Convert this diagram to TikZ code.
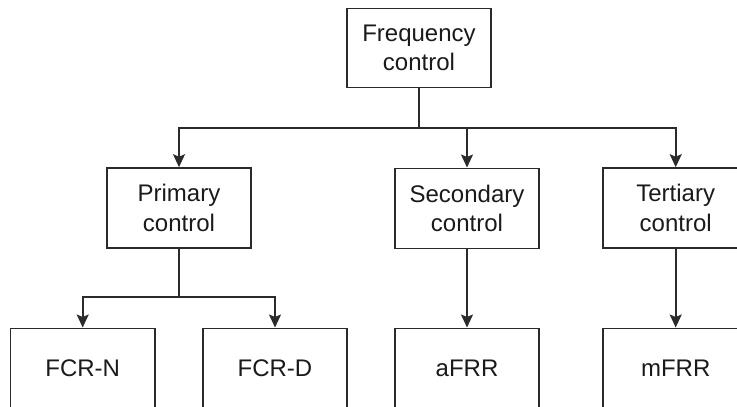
\documentclass[tikz,border=0pt]{standalone}
\usepackage{fontspec}
\setmainfont{Liberation Sans}
\usetikzlibrary{arrows.meta}
\definecolor{linegray}{HTML}{2B2B2B}
\definecolor{textgray}{HTML}{1A1A1A}
\begin{document}
\begin{tikzpicture}[x=1pt,y=-1pt,
  box/.style={draw=linegray, line width=1.6pt, rectangle, minimum width=144.5pt,
    minimum height=80pt, align=center, inner sep=0pt,
    font=\fontsize{24}{29.5}\selectfont, text=textgray},
  link/.style={draw=linegray, line width=1.6pt,
    -{Stealth[length=13pt,width=12pt,inset=2.5pt]}}]
\useasboundingbox (0,0) rectangle (737,407);
% top level
\node[box, minimum height=79pt] (freq) at (419,47.8) {Frequency\\control};
% second level
\node[box] (prim) at (179,208) {Primary\\control};
\node[box] (sec)  at (467,208.3) {Secondary\\control};
\node[box, minimum width=146pt] (tert) at (675.7,208) {Tertiary\\control};
% third level
\node[box] (fcrn) at (82.7,368.3) {FCR-N};
\node[box] (fcrd) at (275,368.3) {FCR-D};
\node[box] (afrr) at (467,368.3) {aFRR};
\node[box, minimum width=146pt] (mfrr) at (675.7,368.3) {mFRR};
% bus lines
\coordinate (bus1) at (419,128);
\coordinate (bus2) at (179,296.7);
\draw[link] (freq.south) |- (bus1) -| (prim.north);
\draw[link] (freq.south) |- (bus1) -| (sec.north);
\draw[link] (freq.south) |- (bus1) -| (tert.north);
\draw[link] (prim.south) |- (bus2) -| (fcrn.north);
\draw[link] (prim.south) |- (bus2) -| (fcrd.north);
\draw[link] (sec.south) -- (afrr.north);
\draw[link] (tert.south) -- (mfrr.north);
\end{tikzpicture}
\end{document}
